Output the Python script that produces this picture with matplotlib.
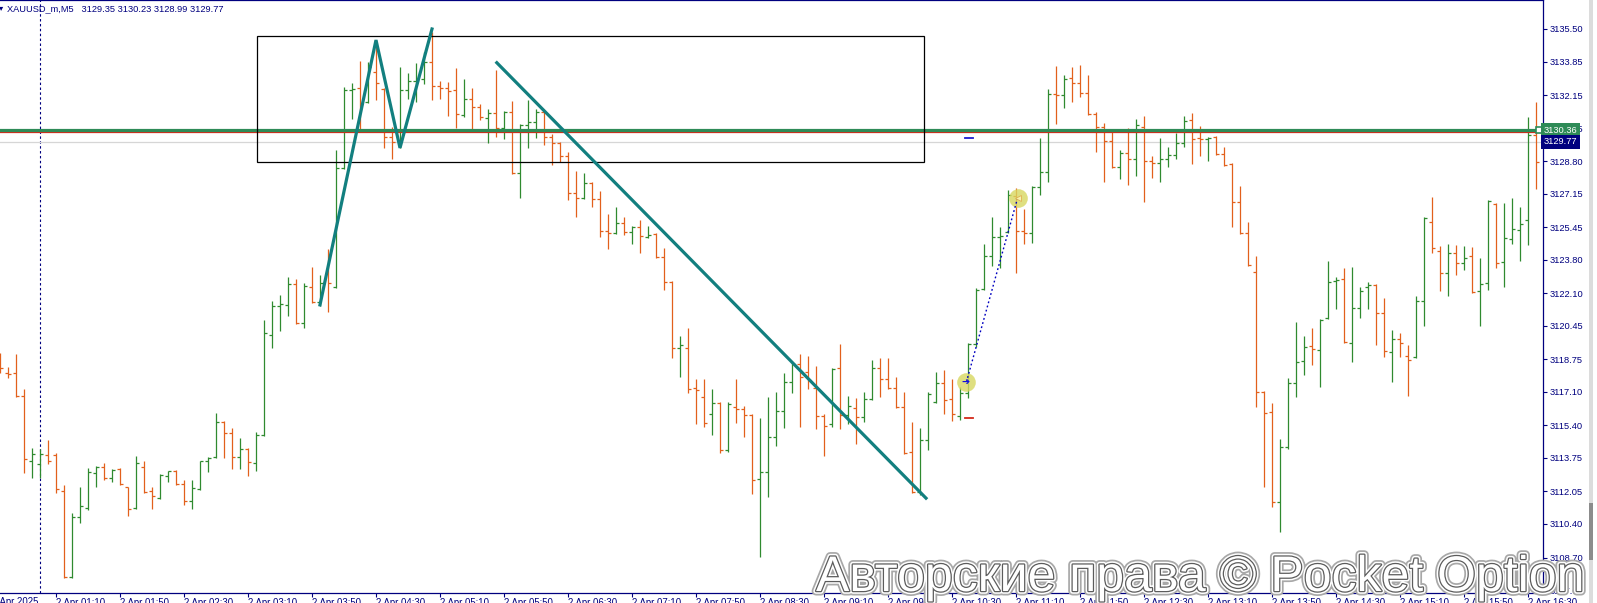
import matplotlib
matplotlib.use('Agg')
import matplotlib.pyplot as plt
from matplotlib.collections import LineCollection
from matplotlib.patches import Rectangle
import matplotlib.patheffects as pe
import matplotlib.transforms as mtrans

plt.rcParams['font.family'] = ['Liberation Sans', 'DejaVu Sans']

W, H = 1597, 603
NAVY = '#00007f'
UP = '#2f8a2f'
DOWN = '#e2601c'

HEADER = 'XAUUSD_m,M5   3129.35 3130.23 3128.99 3129.77'

# M5 bars from 2 Apr 00:35 on, one per 5 minutes
bar_open = [3118.97, 3118.06, 3118.06, 3116.89, 3113.59, 3113.44, 3113.89, 3113.89, 3112.07, 3107.70,
            3110.75, 3111.20, 3112.98, 3113.29, 3112.73, 3113.18, 3112.27, 3111.20, 3113.29, 3112.07,
            3111.71, 3112.83, 3113.08, 3112.42, 3111.56, 3112.17, 3113.59, 3113.79, 3115.57, 3115.01,
            3113.79, 3114.20, 3113.49, 3114.91, 3119.99, 3121.46, 3121.51, 3122.57, 3120.59, 3122.42,
            3121.66, 3123.13, 3122.42, 3128.45, 3132.41, 3132.51, 3131.80, 3133.32, 3132.46, 3130.02,
            3129.87, 3132.41, 3132.86, 3132.96, 3133.83, 3132.61, 3132.51, 3132.41, 3131.14, 3131.95,
            3131.55, 3130.99, 3131.24, 3130.48, 3131.29, 3128.20, 3130.63, 3130.79, 3131.29, 3130.02,
            3129.72, 3129.06, 3127.19, 3126.93, 3127.69, 3126.88, 3125.26, 3125.16, 3125.67, 3125.21,
            3125.46, 3124.95, 3125.11, 3123.94, 3122.67, 3119.32, 3119.32, 3117.30, 3116.84, 3115.97,
            3116.53, 3114.15, 3116.33, 3116.22, 3115.92, 3112.68, 3113.03, 3114.81, 3116.12, 3117.60,
            3118.52, 3118.11, 3117.30, 3115.87, 3115.46, 3118.31, 3115.92, 3116.28, 3115.82, 3116.74,
            3118.31, 3117.75, 3117.30, 3116.33, 3114.04, 3112.01, 3114.65, 3116.58, 3117.55, 3116.74,
            3115.87, 3117.04, 3119.53, 3122.32, 3123.99, 3124.95, 3125.21, 3127.04, 3125.26, 3125.16,
            3127.49, 3128.25, 3132.20, 3132.15, 3133.01, 3132.76, 3132.25, 3131.19, 3130.53, 3129.82,
            3128.50, 3129.21, 3128.91, 3130.53, 3128.80, 3128.70, 3128.91, 3129.11, 3129.72, 3130.89,
            3129.97, 3129.92, 3130.02, 3129.16, 3128.65, 3126.73, 3125.16, 3123.18, 3117.09, 3116.07,
            3111.51, 3114.30, 3117.55, 3118.67, 3119.42, 3119.22, 3120.85, 3122.72, 3122.82, 3119.58,
            3121.35, 3122.42, 3122.52, 3121.10, 3119.12, 3119.78, 3118.92, 3118.87, 3121.71, 3125.72,
            3124.25, 3123.13, 3124.15, 3123.64, 3123.99, 3122.21, 3122.62, 3126.63, 3123.69, 3124.85,
            3125.31, 3125.82, 3130.13]
bar_high = [3119.07, 3118.36, 3119.02, 3117.25, 3114.25, 3114.20, 3114.65, 3113.99, 3112.37, 3110.95,
            3112.27, 3113.23, 3113.34, 3113.49, 3113.18, 3113.23, 3112.30, 3113.84, 3113.59, 3112.27,
            3112.93, 3113.10, 3113.13, 3112.63, 3112.63, 3113.59, 3113.79, 3116.02, 3115.60, 3115.27,
            3114.76, 3114.25, 3115.06, 3120.75, 3121.71, 3122.01, 3122.93, 3122.82, 3122.62, 3123.43,
            3123.03, 3124.35, 3129.36, 3132.56, 3132.76, 3133.88, 3133.83, 3134.69, 3132.50, 3130.53,
            3133.57, 3133.27, 3133.78, 3134.33, 3135.35, 3132.86, 3132.81, 3133.52, 3132.96, 3132.51,
            3131.70, 3131.44, 3133.42, 3131.34, 3131.85, 3130.68, 3131.90, 3131.44, 3131.39, 3130.18,
            3129.77, 3129.26, 3128.30, 3128.20, 3127.72, 3127.29, 3126.12, 3126.48, 3125.97, 3125.51,
            3125.82, 3125.51, 3125.14, 3124.40, 3122.72, 3119.94, 3120.34, 3117.75, 3117.75, 3117.25,
            3116.58, 3116.58, 3117.75, 3116.38, 3115.97, 3115.77, 3116.84, 3117.09, 3118.06, 3118.62,
            3119.02, 3118.92, 3118.41, 3115.97, 3118.31, 3119.53, 3116.89, 3116.79, 3117.09, 3118.72,
            3118.82, 3118.82, 3117.85, 3117.09, 3115.57, 3115.26, 3117.09, 3118.11, 3118.21, 3117.75,
            3117.35, 3119.58, 3122.37, 3124.60, 3125.97, 3125.46, 3127.34, 3127.44, 3126.38, 3127.54,
            3129.97, 3132.46, 3133.62, 3133.17, 3133.57, 3133.67, 3133.17, 3131.29, 3130.73, 3130.38,
            3129.36, 3130.48, 3130.94, 3131.09, 3129.06, 3129.97, 3129.52, 3130.23, 3131.09, 3131.24,
            3130.58, 3130.02, 3130.07, 3129.52, 3128.70, 3127.54, 3125.72, 3123.99, 3117.14, 3116.53,
            3114.70, 3117.80, 3120.65, 3119.94, 3120.34, 3120.80, 3123.74, 3122.93, 3123.38, 3123.43,
            3122.42, 3122.67, 3122.55, 3121.86, 3120.24, 3120.09, 3119.48, 3121.96, 3125.97, 3126.98,
            3124.50, 3124.60, 3124.55, 3124.50, 3124.45, 3123.89, 3126.83, 3126.68, 3126.68, 3126.93,
            3126.48, 3131.04, 3131.80]
bar_low = [3118.06, 3117.80, 3116.85, 3112.98, 3112.73, 3112.73, 3113.44, 3111.96, 3107.65, 3107.65,
           3110.44, 3111.10, 3112.27, 3112.63, 3112.53, 3112.40, 3110.80, 3111.15, 3111.96, 3111.15,
           3111.66, 3112.53, 3112.40, 3111.36, 3111.15, 3112.12, 3113.03, 3113.74, 3113.74, 3113.18,
           3113.18, 3112.83, 3113.08, 3114.86, 3119.32, 3120.19, 3120.95, 3120.55, 3120.34, 3121.61,
           3121.46, 3121.15, 3122.37, 3128.40, 3130.94, 3130.28, 3131.75, 3131.90, 3129.47, 3128.91,
           3129.47, 3131.95, 3131.80, 3132.71, 3131.90, 3131.95, 3131.09, 3130.48, 3131.04, 3130.28,
           3130.89, 3129.72, 3130.02, 3129.92, 3128.15, 3126.93, 3129.47, 3129.97, 3129.62, 3128.60,
           3128.75, 3126.83, 3125.97, 3126.88, 3126.48, 3124.95, 3124.35, 3125.11, 3125.06, 3124.60,
           3124.15, 3124.90, 3123.89, 3122.27, 3118.82, 3117.85, 3117.04, 3115.46, 3115.31, 3114.91,
           3113.99, 3114.04, 3115.51, 3114.81, 3111.91, 3108.72, 3111.76, 3114.35, 3115.26, 3117.04,
           3115.31, 3117.25, 3115.21, 3113.84, 3115.31, 3115.21, 3115.46, 3114.45, 3115.57, 3116.68,
           3116.84, 3117.25, 3116.28, 3113.94, 3111.96, 3111.86, 3114.15, 3116.53, 3115.97, 3115.62,
           3115.67, 3116.79, 3119.37, 3122.27, 3123.48, 3123.38, 3125.16, 3123.13, 3124.60, 3124.65,
           3127.09, 3127.74, 3130.68, 3131.49, 3131.80, 3132.05, 3131.14, 3129.26, 3127.74, 3128.45,
           3127.90, 3127.59, 3128.05, 3126.73, 3127.95, 3127.74, 3128.50, 3128.91, 3129.52, 3128.65,
           3129.06, 3128.80, 3129.11, 3128.55, 3125.46, 3125.11, 3123.48, 3116.33, 3112.27, 3111.26,
           3109.99, 3114.20, 3116.84, 3117.95, 3118.46, 3117.35, 3120.80, 3121.30, 3119.58, 3118.62,
           3120.85, 3121.30, 3119.48, 3118.87, 3117.60, 3118.87, 3116.89, 3118.82, 3120.44, 3124.15,
           3122.21, 3121.96, 3123.03, 3123.28, 3122.11, 3120.44, 3122.27, 3123.38, 3122.42, 3124.60,
           3123.74, 3124.55, 3127.39]
bar_close = [3118.31, 3118.01, 3116.89, 3113.69, 3113.94, 3113.94, 3113.59, 3112.17, 3107.70, 3110.75,
             3111.31, 3113.03, 3113.29, 3112.73, 3113.13, 3112.42, 3111.15, 3113.49, 3112.01, 3111.81,
             3112.88, 3113.08, 3112.42, 3111.56, 3112.22, 3113.59, 3113.74, 3115.57, 3115.01, 3113.79,
             3114.20, 3113.54, 3114.91, 3120.09, 3121.46, 3121.56, 3122.57, 3120.59, 3122.47, 3121.66,
             3122.62, 3122.62, 3128.45, 3132.41, 3132.46, 3130.38, 3133.57, 3132.76, 3130.02, 3129.77,
             3132.41, 3132.86, 3132.96, 3133.83, 3132.61, 3132.51, 3132.36, 3131.19, 3131.95, 3131.55,
             3131.04, 3131.24, 3130.48, 3131.29, 3128.20, 3130.63, 3130.79, 3131.29, 3130.02, 3129.72,
             3129.06, 3127.19, 3126.93, 3127.69, 3126.88, 3125.26, 3125.16, 3125.67, 3125.21, 3125.46,
             3125.00, 3125.06, 3123.94, 3122.67, 3119.32, 3119.48, 3117.25, 3117.20, 3115.51, 3116.53,
             3114.15, 3116.48, 3116.22, 3115.92, 3112.63, 3113.03, 3114.81, 3116.12, 3117.60, 3118.52,
             3117.85, 3117.70, 3115.87, 3115.36, 3118.26, 3115.92, 3116.38, 3115.82, 3116.74, 3118.31,
             3117.75, 3117.30, 3116.33, 3113.99, 3112.01, 3114.65, 3116.99, 3117.55, 3116.68, 3115.97,
             3117.04, 3119.53, 3122.27, 3123.99, 3124.95, 3125.00, 3127.09, 3125.26, 3125.16, 3127.49,
             3128.25, 3132.20, 3132.15, 3132.96, 3132.76, 3132.25, 3131.19, 3130.53, 3129.82, 3128.50,
             3129.21, 3128.91, 3130.63, 3128.80, 3128.70, 3128.91, 3129.11, 3129.72, 3130.84, 3129.92,
             3129.92, 3129.97, 3129.16, 3128.60, 3126.73, 3125.16, 3123.53, 3117.09, 3116.02, 3111.51,
             3114.30, 3117.55, 3118.62, 3119.37, 3119.27, 3120.75, 3122.67, 3122.77, 3119.63, 3121.35,
             3122.21, 3122.52, 3121.10, 3119.17, 3119.78, 3119.58, 3118.72, 3121.71, 3125.92, 3124.40,
             3123.13, 3124.15, 3123.64, 3123.89, 3122.16, 3122.57, 3126.78, 3123.64, 3124.90, 3125.36,
             3125.62, 3130.13, 3128.75]

time_ticks = list(range(7, 193, 8))
time_labels = ['2 Apr 01:10', '2 Apr 01:50', '2 Apr 02:30', '2 Apr 03:10', '2 Apr 03:50', '2 Apr 04:30',
               '2 Apr 05:10', '2 Apr 05:50', '2 Apr 06:30', '2 Apr 07:10', '2 Apr 07:50', '2 Apr 08:30',
               '2 Apr 09:10', '2 Apr 09:50', '2 Apr 10:30', '2 Apr 11:10', '2 Apr 11:50', '2 Apr 12:30',
               '2 Apr 13:10', '2 Apr 13:50', '2 Apr 14:30', '2 Apr 15:10', '2 Apr 15:50', '2 Apr 16:30']
price_ticks = [3135.50, 3133.85, 3132.15, 3130.45, 3128.80, 3127.15, 3125.45, 3123.80, 3122.10,
               3120.45, 3118.75, 3117.10, 3115.40, 3113.75, 3112.05, 3110.40, 3108.70, 3107.05]

green_level = 3130.36
red_level = 3130.28
bid_level = 3129.77

# drawn objects: rectangle, zigzag, trend line, closed trade
box_bars = [32.1, 115.5]
box_prices = [3128.75, 3135.14]
zigzag_bars = [40.0, 47.0, 50.0, 54.0]
zigzag_prices = [3121.51, 3134.94, 3129.47, 3135.50]
trend_bars = [62.1, 115.75]
trend_prices = [3133.79, 3111.71]
trade_bars = [120.8, 127.2]
trade_prices = [3117.60, 3126.93]
tp_price = 3129.97
sl_price = 3115.77
separator_bar = 5.0

fig = plt.figure(figsize=(W / 100, H / 100), dpi=100)
ax = fig.add_axes([0, 10 / H, 1543 / W, 593 / H])
ax.set_xlim(0, 1543 / 8)
ax.set_ylim(3106.90, 3136.97)

# OHLC bars
segs, cols = [], []
for i in range(len(bar_open)):
    c = UP if bar_close[i] >= bar_open[i] else DOWN
    segs += [[(i, bar_low[i]), (i, bar_high[i])],
             [(i - 0.375, bar_open[i]), (i, bar_open[i])],
             [(i, bar_close[i]), (i + 0.375, bar_close[i])]]
    cols += [c, c, c]
ax.add_collection(LineCollection(segs, colors=cols, linewidths=0.9, zorder=3))

ax.axvline(separator_bar, color=NAVY, lw=0.8, dashes=(2.2, 2.2), zorder=2)

ax.axhline(bid_level, color='#d6d6d6', lw=0.9, zorder=2)
ax.axhline(red_level, color='#d42a1a', lw=0.9, zorder=4)
ax.axhline(green_level, color='#2e8b57', lw=2.3, zorder=4)
ax.plot([192.4], [green_level], marker='s', ms=4, mfc='white', mec='#2e8b57', mew=1.2,
        zorder=5, clip_on=False)

ax.add_patch(Rectangle((box_bars[0], box_prices[0]), box_bars[1] - box_bars[0],
                       box_prices[1] - box_prices[0], fill=False, ec='black', lw=0.9, zorder=4))

ax.plot(zigzag_bars, zigzag_prices, color='#127f7f', lw=2.3, zorder=5, solid_joinstyle='miter')
ax.plot(trend_bars, trend_prices, color='#127f7f', lw=2.3, zorder=5)

ax.scatter(trade_bars, trade_prices, s=180, color='#d8d860', alpha=0.8, lw=0, zorder=6)
ax.plot(trade_bars, trade_prices, color='#0000c0', lw=1.0, dashes=(1.3, 1.8), zorder=7)
ax.text(trade_bars[0] - 0.1, trade_prices[0], '\u2794', color='#1010e0', fontsize=7,
        ha='center', va='center', family=['DejaVu Sans'], zorder=8)
ax.plot([trade_bars[1]], [trade_prices[1]], marker='<', ms=5, mfc='#f6f3b0', mec='#e0b050',
        mew=0.6, zorder=8)
ax.plot([120.6, 121.6], [tp_price, tp_price], color='#1a1ad0', lw=1.3, zorder=6)
ax.plot([120.6, 121.6], [sl_price, sl_price], color='#d42a1a', lw=1.3, zorder=6)

# axes styling like the terminal
ax.spines['left'].set_visible(False)
for s in ['top', 'right', 'bottom']:
    ax.spines[s].set_color(NAVY)
    ax.spines[s].set_linewidth(0.9)
ax.yaxis.tick_right()
ax.set_yticks(price_ticks)
ax.set_yticklabels([f'{p:.2f}' for p in price_ticks])
ax.tick_params(axis='y', direction='out', length=3, width=0.8, color=NAVY,
               labelcolor=NAVY, labelsize=6.7, pad=1.5)
ax.set_xticks(time_ticks)
ax.set_xticklabels(time_labels, ha='left')
ax.tick_params(axis='x', direction='out', length=3, width=0.8, color=NAVY,
               labelcolor=NAVY, labelsize=6.9, pad=0.5)
ax.text(-1.0, -0.006, '2 Apr 2025', transform=ax.get_xaxis_transform(), ha='left', va='top',
        fontsize=6.9, color=NAVY, clip_on=False)

# price labels on the axis
tr = mtrans.blended_transform_factory(ax.transAxes, ax.transData)
for lvl, txt, bg in [(red_level - 0.1, '3130.28', '#8b1c1c'),
                     (green_level, '3130.36', '#2e8b57'),
                     (bid_level, '3129.77', '#00007f')]:
    ax.text(1.0007, lvl, txt, transform=tr, ha='left', va='center', fontsize=6.7,
            color='white', zorder=10, clip_on=False,
            bbox=dict(boxstyle='square,pad=0.28', fc=bg, ec='none'))

fig.text(7 / W, 1 - 8.5 / H, HEADER, fontsize=6.7, color=NAVY, ha='left', va='center')
fig.text(-1 / W, 1 - 8 / H, '\u25be', fontsize=6, color=NAVY, ha='left', va='center',
         family=['DejaVu Sans'])

# scroll strip at the far right
fig.patches.append(Rectangle((1589 / W, 0), 4 / W, 1, transform=fig.transFigure,
                             fc='#dcdcdc', ec='none'))
fig.patches.append(Rectangle((1589 / W, 1 - 560 / H), 4 / W, 57 / H, transform=fig.transFigure,
                             fc='#8c8c8c', ec='none'))

wm = fig.text(816 / W, 1 - 591 / H, 'Авторские права © Pocket Option', fontsize=36,
              color='white', ha='left', va='baseline', zorder=20)
wm.set_path_effects([pe.Stroke(linewidth=6.5, foreground='#a8a8a8'),
                     pe.Stroke(linewidth=4, foreground='white'),
                     pe.Stroke(linewidth=1.8, foreground='#5c5c5c'),
                     pe.Normal()])

fig.savefig('out.png', dpi=100)
